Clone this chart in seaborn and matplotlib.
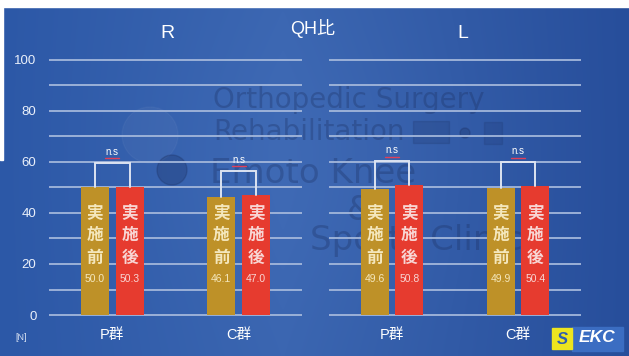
import numpy as np
import pandas as pd
import matplotlib
matplotlib.use("Agg")
import matplotlib.pyplot as plt
import seaborn as sns
from matplotlib.patches import Rectangle, Circle

# ---- data ----
groups = ["P群", "C群"]
timings = ["実施前", "実施後"]
right_pre = [50.0, 46.1]
right_post = [50.3, 47.0]
left_pre = [49.6, 49.9]
left_post = [50.8, 50.4]
y_ticks = [0, 20, 40, 60, 80, 100]
sig_label = "n.s"
title = "QH比"
side_titles = ["R", "L"]

# ---- style ----
GOLD = "#BE9128"
RED = "#E63B2F"
GRID = "#A3B7DB"
BRACKET = "#DCE3F1"
TXT_PRE = "#F4E7BC"
TXT_POST = "#F8D6D4"

W, H = 629, 356
sns.set_theme(style="white")
plt.rcParams["font.family"] = ["Liberation Sans", "Noto Sans CJK JP", "DejaVu Sans"]

fig = plt.figure(figsize=(W / 100, H / 100), dpi=100)


def fx(px):
    return px / W


def fy(py):
    return 1 - py / H


# ---- slide background (pixel coordinates) ----
bg = fig.add_axes([0, 0, 1, 1], zorder=-10)
bg.set_xlim(0, W)
bg.set_ylim(H, 0)
bg.axis("off")
xs = np.linspace(0, 1, 400)
ys = np.linspace(0, 1, 220)
X, Y = np.meshgrid(xs, ys)
stops = [0.0, 0.45, 1.0]
img = np.zeros(X.shape + (3,))
for c, vals in enumerate(zip([44, 88, 167], [58, 101, 176], [39, 78, 155])):
    img[..., c] = np.interp(X, stops, vals)
glow = np.exp(-(((X - 0.5) / 0.3) ** 2 + ((Y - 0.45) / 0.45) ** 2))
img += glow[..., None] * np.array([5, 5, 5])
bg.imshow(np.clip(img / 255, 0, 1), extent=[0, W, H, 0], aspect="auto", interpolation="bilinear")
bg.add_patch(Rectangle((0, 0), W, 7, color="white", zorder=2))
bg.add_patch(Rectangle((0, 0), 3, 160, color="white", zorder=2))

# watermark
wm = dict(color="#1C3163", alpha=0.33, family="DejaVu Sans", va="baseline", zorder=1)
bg.text(213, 108, "Orthopedic Surgery", fontsize=20, **wm)
bg.text(213, 140, "Rehabilitation", fontsize=20, **wm)
bg.text(210, 183, "Emoto Knee", fontsize=24.5, **wm)
bg.text(347, 220, "&", fontsize=24.5, **wm)
bg.text(310, 250, "Sports Clinic", fontsize=24.5, **wm)
bg.add_patch(Rectangle((413, 121), 36, 22, color="#1C3163", alpha=0.2, zorder=1))
bg.add_patch(Circle((465, 133), 5, color="#1C3163", alpha=0.3, zorder=1))
bg.add_patch(Rectangle((484, 122), 18, 22, color="#1C3163", alpha=0.18, zorder=1))
bg.add_patch(Circle((150, 135), 28, color="white", alpha=0.035, zorder=1))
bg.add_patch(Circle((172, 170), 15, color="#1C3163", alpha=0.3, zorder=1))

# logo
bg.add_patch(Rectangle((572, 327), 51, 24, color="#3B6DC2", zorder=2))
bg.add_patch(Rectangle((552, 328), 20, 21, color="#EDE51F", zorder=3))
bg.text(562, 339, "S", fontsize=12, fontweight="bold", style="italic",
        color="#2F5DB0", ha="center", va="center", zorder=4)
bg.text(597, 337, "EKC", fontsize=12.5, fontweight="bold", style="italic",
        color="white", ha="center", va="center", zorder=4)

# ---- titles ----
fig.text(fx(313), fy(28), title, fontsize=13, color="white", ha="center", va="center")
fig.text(fx(167), fy(33), side_titles[0], fontsize=14, color="white", ha="center", va="center")
fig.text(fx(463), fy(33), side_titles[1], fontsize=14, color="white", ha="center", va="center")
fig.text(fx(21), fy(338), "[N]", fontsize=6.5, color="#D8E2F2", ha="center", va="center")

PAD = 0.6  # y-range padding so the 0 and 100 gridlines are not clipped
PX_PER_UNIT = 2.55


def draw_panel(ax, pre, post, show_y):
    df = pd.DataFrame({
        "group": groups * 2,
        "timing": [timings[0]] * len(groups) + [timings[1]] * len(groups),
        "value": list(pre) + list(post),
    })
    sns.barplot(data=df, x="group", y="value", hue="timing", order=groups,
                hue_order=timings, palette=[GOLD, RED], width=0.55, gap=0.2,
                saturation=1, errorbar=None, legend=False, linewidth=0, ax=ax)
    ax.set_facecolor("none")
    ax.set_ylim(-PAD, 100 + PAD)
    ax.set_xlim(-0.5, len(groups) - 0.5)
    ax.set_yticks(y_ticks)
    ax.set_yticks(range(10, 100, 20), minor=True)
    ax.grid(True, axis="y", which="both", color=GRID, lw=1.3)
    ax.set_axisbelow(True)
    for s in ax.spines.values():
        s.set_visible(False)
    ax.set_xlabel("")
    ax.set_ylabel("")
    ax.tick_params(axis="both", which="both", length=0, colors="white")
    ax.tick_params(axis="y", labelsize=9.5, pad=9, labelleft=show_y, labelcolor="#EAF0FA")
    ax.tick_params(axis="x", labelsize=10.5, pad=8)

    bars = sorted([p for p in ax.patches if p.get_width() > 0], key=lambda p: p.get_x())
    centers = [b.get_x() + b.get_width() / 2 for b in bars]
    heights = [b.get_height() for b in bars]
    for i, (xc, h) in enumerate(zip(centers, heights)):
        k = i % 2
        col = TXT_PRE if k == 0 else TXT_POST
        for j, ch in enumerate(timings[k]):
            ax.text(xc, 40 - j * 8.8, ch, ha="center", va="center", fontsize=12,
                    fontweight="bold", color=col, zorder=5)
        ax.text(xc, 14.3, f"{h:.1f}", ha="center", va="center", fontsize=7.5,
                color=col, zorder=5)

    for g in range(len(groups)):
        x1, x2 = centers[2 * g], centers[2 * g + 1]
        h1, h2 = heights[2 * g], heights[2 * g + 1]
        top = max(h1, h2) + 9.5
        ax.plot([x1, x1, x2, x2], [h1, top, top, h2], color=BRACKET, lw=1.4,
                solid_joinstyle="miter", zorder=4)
        xm = (x1 + x2) / 2
        ax.text(xm, top + 4.3, sig_label, ha="center", va="center", fontsize=7,
                color="white", zorder=5)
        ax.plot([xm - 0.055, xm + 0.055], [top + 1.8] * 2, color="#E0405A", lw=1.0, zorder=6)


pad_px = PAD * PX_PER_UNIT
ax_h = (255 + 2 * pad_px) / H
axR = fig.add_axes([fx(49), fy(315 + pad_px), (302 - 49) / W, ax_h])
axL = fig.add_axes([fx(329), fy(315 + pad_px), (581 - 329) / W, ax_h])
draw_panel(axR, right_pre, right_post, True)
draw_panel(axL, left_pre, left_post, False)

fig.savefig("out.png", dpi=100)
